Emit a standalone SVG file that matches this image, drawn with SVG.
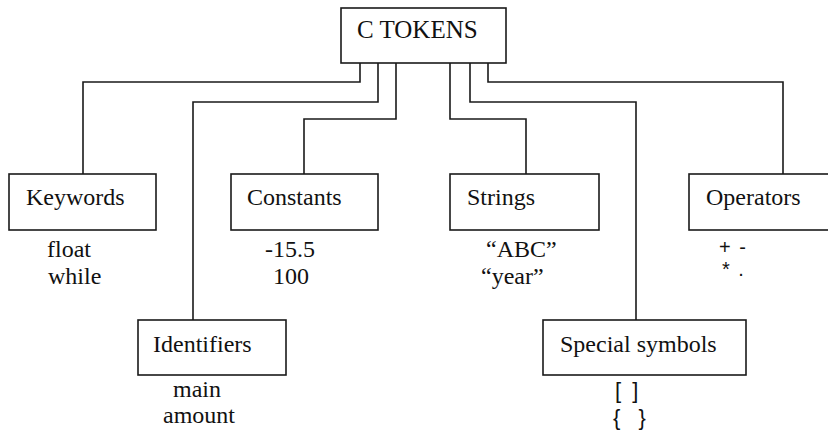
<svg xmlns="http://www.w3.org/2000/svg" width="828" height="432" viewBox="0 0 828 432">
<style>
.box{fill:#fff;stroke:#1a1a1a;stroke-width:1.6}
.lbl{font-family:"Liberation Serif","Times New Roman",serif;font-size:24px;fill:#111}
.sub{font-family:"Liberation Serif","Times New Roman",serif;font-size:24px;fill:#111}
.sym{font-family:"Liberation Sans",Arial,sans-serif;fill:#111}
.conn path{fill:none;stroke:#1a1a1a;stroke-width:1.6}
</style>
<rect width="828" height="432" fill="#fff"/>
<g id="connectors" class="conn">
<path d="M360 63 V82 H83 V174"/>
<path d="M378 63 V102 H193 V320"/>
<path d="M396 63 V119 H304 V174"/>
<path d="M450 63 V119 H526 V174"/>
<path d="M470 63 V102 H636 V320"/>
<path d="M488 63 V82 H783 V174"/>
</g>
<g id="ctokens">
<rect class="box" x="341" y="8" width="165" height="55"/>
<text class="lbl" x="357" y="38" style="font-size:25px">C TOKENS</text>
</g>
<g id="keywords">
<rect class="box" x="9" y="174" width="147" height="56"/>
<text class="lbl" x="26" y="205">Keywords</text>
<text class="sub" x="47" y="257">float</text>
<text class="sub" x="48" y="284">while</text>
</g>
<g id="constants">
<rect class="box" x="231" y="174" width="147" height="56"/>
<text class="lbl" x="247" y="205">Constants</text>
<text class="sub" x="265" y="257">-15.5</text>
<text class="sub" x="273" y="284">100</text>
</g>
<g id="strings">
<rect class="box" x="450" y="174" width="149" height="56"/>
<text class="lbl" x="467" y="205">Strings</text>
<text class="sub" x="486" y="257">“ABC”</text>
<text class="sub" x="481" y="284">“year”</text>
</g>
<g id="operators">
<rect class="box" x="689" y="174" width="150" height="56"/>
<text class="lbl" x="706" y="205">Operators</text>
<text class="sym" x="719" y="254" style="font-size:20px;word-spacing:3px">+ -</text>
<text class="sym" x="722" y="276" style="font-size:20px;word-spacing:3px">* .</text>
</g>
<g id="identifiers">
<rect class="box" x="138" y="320" width="148" height="55"/>
<text class="lbl" x="153" y="352">Identifiers</text>
<text class="sub" x="173" y="397">main</text>
<text class="sub" x="163" y="423">amount</text>
</g>
<g id="special-symbols">
<rect class="box" x="543" y="320" width="203" height="55"/>
<text class="lbl" x="560" y="352">Special symbols</text>
<text class="sym" x="615" y="398" style="font-size:22px;word-spacing:5px">[ ]</text>
<text class="sym" x="613" y="425" style="font-size:22px;word-spacing:12px">{ }</text>
</g>
</svg>
